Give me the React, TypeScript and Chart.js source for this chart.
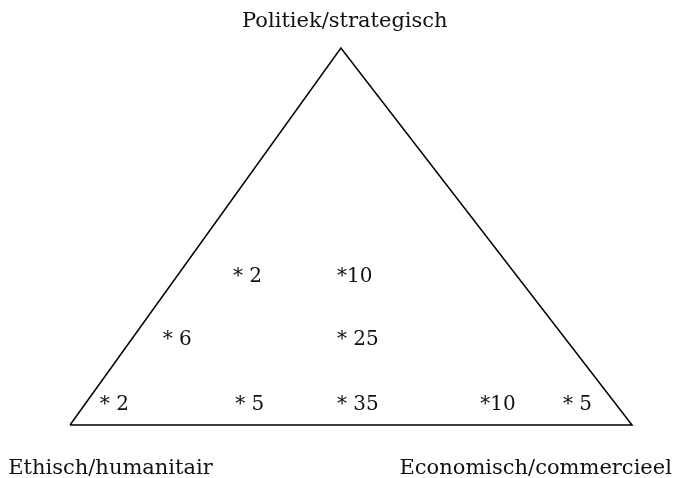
import React, { useEffect, useRef } from "react";
import { Chart, registerables } from "chart.js";

Chart.register(...registerables);

// Triangle outline (data units: base from 0 to 100, apex height 100)
const triangleX = [0, 48.2, 100, 0];
const triangleY = [0, 100, 0, 0];

// Counts placed inside the triangle
const countLabels = ["* 2", "*10", "* 6", "* 25", "* 2", "* 5", "* 35", "*10", "* 5"];
const countX = [29.0, 47.5, 16.5, 47.5, 5.3, 29.4, 47.5, 73.0, 87.7];
const countY = [37.9, 37.9, 21.2, 21.2, 4.0, 4.0, 4.0, 4.0, 4.0];

// Corner labels
const cornerLabels = ["Politiek/strategisch", "Ethisch/humanitair", "Economisch/commercieel"];
const cornerX = [48.9, -11.0, 107.1];
const cornerY = [105.6, -13.0, -13.0];
const cornerAlign: CanvasTextAlign[] = ["center", "left", "right"];

const FONT = '"DejaVu Serif", "Liberation Serif", serif';

const textPlugin = {
  id: "triangleText",
  afterDatasetsDraw(chart: any) {
    const { ctx, scales } = chart;
    const xs = scales.x;
    const ys = scales.y;
    ctx.save();
    ctx.fillStyle = "#111";
    ctx.textBaseline = "alphabetic";
    ctx.font = `20px ${FONT}`;
    ctx.textAlign = "left";
    countLabels.forEach((t, i) => {
      ctx.fillText(t, xs.getPixelForValue(countX[i]), ys.getPixelForValue(countY[i]));
    });
    ctx.font = `21px ${FONT}`;
    cornerLabels.forEach((t, i) => {
      ctx.textAlign = cornerAlign[i];
      ctx.fillText(t, xs.getPixelForValue(cornerX[i]), ys.getPixelForValue(cornerY[i]));
    });
    ctx.restore();
  },
};

export default function App() {
  const ref = useRef<HTMLCanvasElement | null>(null);
  useEffect(() => {
    if (!ref.current) return;
    const chart = new Chart(ref.current, {
      type: "scatter",
      data: {
        datasets: [
          {
            data: triangleX.map((x, i) => ({ x, y: triangleY[i] })),
            showLine: true,
            borderColor: "#000",
            borderWidth: 1.5,
            pointRadius: 0,
            fill: false,
            tension: 0,
          },
        ],
      },
      options: {
        animation: false,
        responsive: true,
        maintainAspectRatio: false,
        layout: { padding: 0 },
        plugins: { legend: { display: false }, tooltip: { enabled: false } },
        scales: {
          x: { type: "linear", display: false, min: -12.46, max: 108.36 },
          y: { type: "linear", display: false, min: -14.06, max: 112.73 },
        },
      },
      plugins: [textPlugin],
    });
    return () => chart.destroy();
  }, []);
  return (
    <div style={{ position: "fixed", left: 0, top: 0, width: 679, height: 478, background: "#fff" }}>
      <canvas ref={ref} />
    </div>
  );
}
